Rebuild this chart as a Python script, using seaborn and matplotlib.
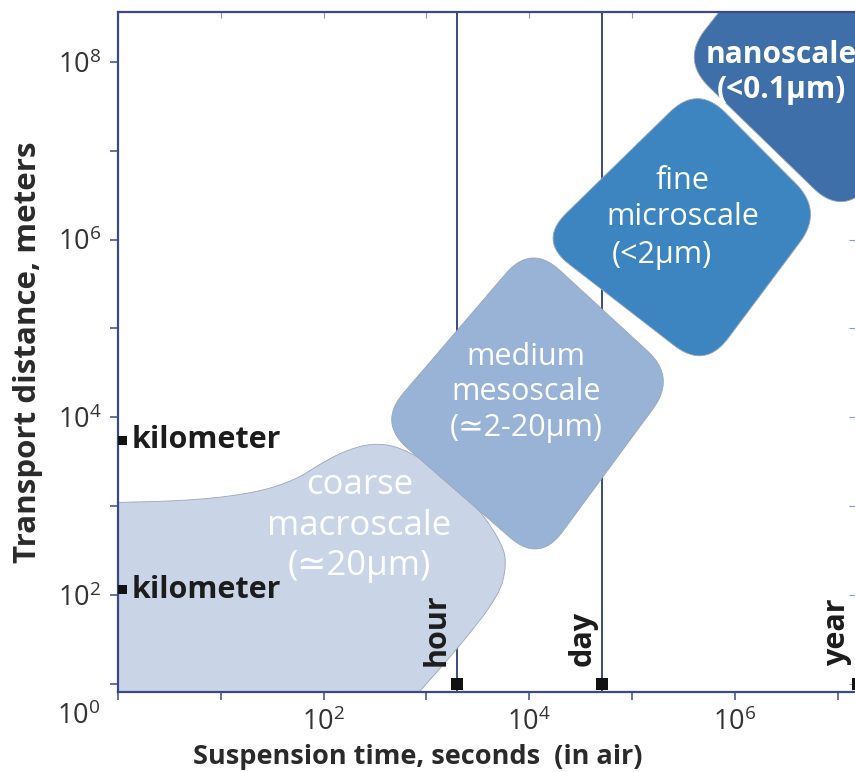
import numpy as np
import pandas as pd
import matplotlib
matplotlib.use("Agg")
import matplotlib.pyplot as plt
import seaborn as sns
from matplotlib.ticker import FixedLocator, FuncFormatter, NullFormatter

# ----------- DATA (log10 units: decades of seconds / meters) -----------

# coarse macroscale outline (free form, smoothed later)
coarse_x = [-0.6, 0.0, 0.79, 1.37, 1.73, 1.96, 2.20, 2.47, 2.74, 3.13, 3.52, 3.74, 3.78, 3.71, 3.32, 2.93, 2.23, -0.6]
coarse_y = [3.04, 3.04, 3.07, 3.16, 3.30, 3.47, 3.62, 3.71, 3.67, 3.41, 2.96, 2.57, 2.34, 2.00, 1.42, 0.91, 0.0, 0.0]

# the other regions are rounded four-sided boxes: top, right, bottom, left corners
medium_x = [4.02, 5.43, 4.10, 2.53]
medium_y = [5.95, 4.45, 2.36, 3.94]
fine_x = [5.64, 6.86, 5.71, 4.09]
fine_y = [7.74, 6.32, 4.54, 5.99]
nano_x = [6.63, 8.29, 7.04, 5.48]
nano_y = [9.71, 7.80, 6.27, 8.02]

region_colors = ["#c9d5e6", "#98b3d6", "#3d85c0", "#3f6fa9"]

# time markers
time_names = ["hour", "day", "year"]
time_pos = [3.30, 4.71, 7.20]
time_label_pos = [3.10, 4.52, 7.00]
time_lines = [True, True, False]

# distance markers
dist_names = ["kilometer", "kilometer"]
dist_pos = [3.74, 2.06]

x_lim = (0.0, 7.17)
y_lim = (0.91, 8.56)
decades_x = list(range(0, 8))
decades_y = list(range(1, 9))
labelled_x = [2, 4, 6]
labelled_y = [2, 4, 6, 8]

# ----------- HELPERS -----------

ASPECT = 88.9 / 102.7  # pixels per decade y / x


def round_box(xs, ys, r=0.38, n=20):
    pts = np.column_stack([xs, np.array(ys) * ASPECT])
    out = []
    m = len(pts)
    t = np.linspace(0, 1, n)[:, None]
    for i in range(m):
        p, a, b = pts[i], pts[i - 1], pts[(i + 1) % m]
        p1 = p + r * (a - p) / np.linalg.norm(a - p)
        p2 = p + r * (b - p) / np.linalg.norm(b - p)
        out.append((1 - t) ** 2 * p1 + 2 * (1 - t) * t * p + t ** 2 * p2)
    out = np.vstack(out)
    return out[:, 0], out[:, 1] / ASPECT


def chaikin(xs, ys, it=2):
    pts = np.column_stack([xs, ys])
    for _ in range(it):
        nxt = np.roll(pts, -1, axis=0)
        q = 0.75 * pts + 0.25 * nxt
        r = 0.25 * pts + 0.75 * nxt
        pts = np.empty((2 * len(q), 2))
        pts[0::2], pts[1::2] = q, r
    return pts[:, 0], pts[:, 1]


# ----------- FIGURE -----------

sns.set_theme(style="white")
plt.rcParams["font.family"] = ["Open Sans", "DejaVu Sans"]
plt.rcParams["mathtext.default"] = "regular"

navy = "#3b4a85"
ink = "#1c1c1c"

fig = plt.figure(figsize=(8.55, 7.72), dpi=100)
ax = fig.add_axes([118 / 855, 80 / 772, 737 / 855, 680 / 772])
ax.set_xscale("log")
ax.set_yscale("log")
ax.set_xlim(10 ** x_lim[0], 10 ** x_lim[1])
ax.set_ylim(10 ** y_lim[0], 10 ** y_lim[1])

# vertical time lines (behind the regions)
lines_df = pd.DataFrame({
    "t": [10 ** p for p, ok in zip(time_pos, time_lines) if ok for _ in range(2)],
    "d": [10 ** y_lim[0], 10 ** y_lim[1]] * sum(time_lines),
    "name": [n for n, ok in zip(time_names, time_lines) if ok for _ in range(2)],
})
sns.lineplot(data=lines_df, x="t", y="d", units="name", estimator=None,
             color=navy, lw=1.4, ax=ax, zorder=0.5, sort=False)

# regions
cx, cy = chaikin(coarse_x, coarse_y)
shapes = [(cx, cy),
          round_box(medium_x, medium_y),
          round_box(fine_x, fine_y),
          round_box(nano_x, nano_y)]
for (sx, sy), col in zip(shapes, region_colors):
    ax.fill(10 ** sx, 10 ** sy, facecolor=col, edgecolor="#9aa6b8", lw=0.6, zorder=1)

# region labels
lab = dict(color="white", ha="center", va="center", zorder=3, linespacing=1.25)
ax.text(10 ** 2.35, 10 ** 2.78, "coarse\nmacroscale\n(\u224320\u00b5m)", fontsize=25, **lab)
ax.text(10 ** 3.97, 10 ** 4.28, "medium\nmesoscale\n(\u22432-20\u00b5m)", fontsize=22, **lab)
ax.text(10 ** 5.49, 10 ** 6.46, "fine\nmicroscale", fontsize=22, **lab)
ax.text(10 ** 5.29, 10 ** 5.83, "(<2\u00b5m)", fontsize=22, **lab)
ax.text(10 ** 6.45, 10 ** 7.88, "nanoscale\n(<0.1\u00b5m)", fontsize=21.5, fontweight="bold", **lab)

# time markers and labels
mk_df = pd.DataFrame({"t": [10 ** p for p in time_pos], "d": [10 ** 1.0] * len(time_pos)})
sns.scatterplot(data=mk_df, x="t", y="d", marker="s", s=75, color="#111111",
                edgecolor="none", ax=ax, zorder=4, clip_on=False)
for name, p in zip(time_names, time_label_pos):
    ax.text(10 ** p, 10 ** 1.2, name, rotation=90, ha="center", va="bottom",
            fontsize=22, fontweight="bold", color=ink, zorder=4)

# distance markers and labels
dm_df = pd.DataFrame({"t": [10 ** 0.04] * len(dist_pos), "d": [10 ** p for p in dist_pos]})
sns.scatterplot(data=dm_df, x="t", y="d", marker="s", s=40, color="#111111",
                edgecolor="none", ax=ax, zorder=4)
for name, p in zip(dist_names, dist_pos):
    ax.text(10 ** 0.13, 10 ** p, name, ha="left", va="center",
            fontsize=22, fontweight="bold", color=ink, zorder=4)

# ----------- AXES STYLE -----------

def fmt(labelled):
    return FuncFormatter(lambda v, _: r"$\mathdefault{10^{%d}}$" % round(np.log10(v))
                         if round(np.log10(v)) in labelled else "")

ax.xaxis.set_major_locator(FixedLocator([10 ** d for d in decades_x]))
ax.yaxis.set_major_locator(FixedLocator([10 ** d for d in decades_y]))
ax.xaxis.set_minor_locator(FixedLocator([]))
ax.yaxis.set_minor_locator(FixedLocator([]))
ax.xaxis.set_minor_formatter(NullFormatter())
ax.yaxis.set_minor_formatter(NullFormatter())
ax.xaxis.set_major_formatter(fmt(labelled_x))
ax.yaxis.set_major_formatter(fmt(labelled_y))
ax.tick_params(which="both", direction="out", length=6, width=1.1, color=navy,
               labelsize=19.5, labelcolor="#333333", pad=6, bottom=True, left=True)

for side in ["left", "bottom", "top"]:
    ax.spines[side].set_color(navy)
    ax.spines[side].set_linewidth(1.6)
ax.spines["right"].set_visible(False)

top = ax.secondary_xaxis("top")
top.xaxis.set_major_locator(FixedLocator([10 ** d for d in decades_x]))
top.xaxis.set_minor_locator(FixedLocator([]))
top.tick_params(which="both", direction="in", length=4, width=0.8, color="#8c96b8", labeltop=False)
top.spines["top"].set_visible(False)
right = ax.secondary_yaxis("right")
right.yaxis.set_major_locator(FixedLocator([10 ** d for d in decades_y]))
right.yaxis.set_minor_locator(FixedLocator([]))
right.tick_params(which="both", direction="in", length=4, width=0.8, color="#8c96b8", labelright=False)
right.spines["right"].set_visible(False)

ax.text(10 ** -0.38, 10 ** 0.63, r"$\mathdefault{10^{0}}$", ha="center", va="center",
        fontsize=19.5, color="#333333", clip_on=False)

ax.set_xlabel("Suspension time, seconds  (in air)", fontsize=19.5, fontweight="bold",
              color="#2a2a2a")
ax.xaxis.set_label_coords(0.407, -0.076)
ax.set_ylabel("Transport distance, meters", fontsize=22.5, fontweight="bold",
              color="#2a2a2a")
ax.yaxis.set_label_coords(-0.102, 0.5)

fig.savefig("out.png", dpi=100)
